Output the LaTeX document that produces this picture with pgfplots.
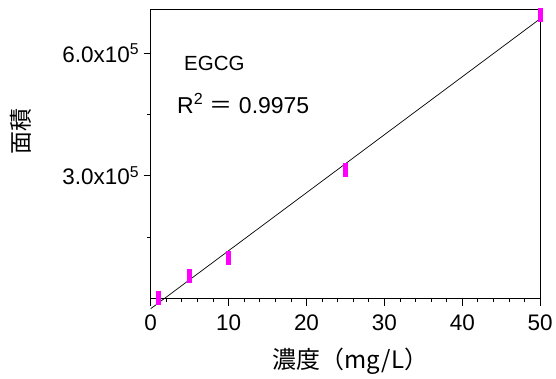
\documentclass[border=0pt]{standalone}
\usepackage{pgfplots}
\pgfplotsset{compat=1.18}
\usepackage{fontspec}
\setmainfont{Liberation Sans}
\newfontfamily\cjk{Noto Sans CJK JP}
\definecolor{mag}{RGB}{255,0,255}
\begin{document}
\begin{tikzpicture}
\begin{axis}[
  scale only axis,
  width=390pt, height=289pt,
  xmin=0, xmax=50, ymin=0, ymax=705000,
  clip=false,
  axis line style={line width=1pt},
  xtick={0,10,20,30,40,50},
  minor xtick={2,4,6,8,12,14,16,18,22,24,26,28,32,34,36,38,42,44,46,48},
  ytick={300000,600000},
  yticklabels={{3.0x10\textsuperscript{5}},{6.0x10\textsuperscript{5}}},
  minor ytick={150000,450000},
  scaled ticks=false,
  tick align=outside,
  xtick pos=bottom, ytick pos=left,
  major tick length=7pt, minor tick length=3.5pt,
  tick style={black, line width=0.8pt},
  /pgf/number format/assume math mode=true,
  tick label style={font=\fontsize{22.5}{24}\selectfont},
  xticklabel style={yshift=-6pt},
  yticklabel style={xshift=-1pt},
]
\addplot[black, line width=0.7pt] coordinates {(0,-24700) (50,683600)};
\addplot[only marks, mark=|, mark size=7pt, mark options={mag, line width=5pt}] coordinates {
  (1,2400) (5,55000) (10,100000) (25,315000) (50,693000)
};
\node[anchor=base west, font=\fontsize{20.5}{22}\selectfont] at (rel axis cs:0.077,0.789) {EGCG};
\node[anchor=base west, font=\fontsize{23}{25}\selectfont] at (rel axis cs:0.059,0.640) {R\textsuperscript{2} {\cjk ＝} 0.9975};
\node[rotate=90, font=\cjk\fontsize{23}{25}\selectfont] at (rel axis cs:-0.333,0.578) {面積};
\node[font=\cjk\fontsize{24}{26}\selectfont] at (rel axis cs:0.513,-0.218) {濃度（mg/L）};
\path (rel axis cs:-0.387,-0.27) rectangle (rel axis cs:1.0385,1.0346);
\end{axis}
\end{tikzpicture}
\end{document}
